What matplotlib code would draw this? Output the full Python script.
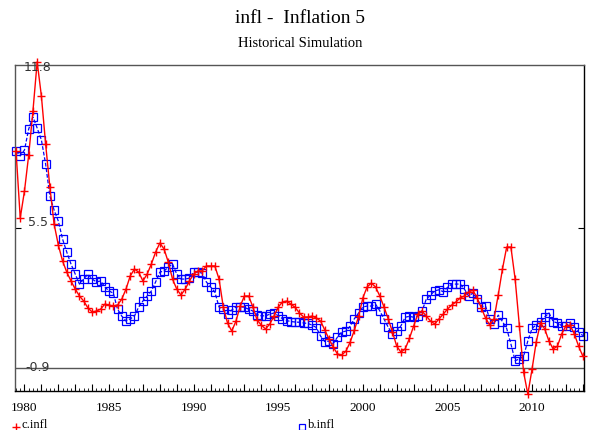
import numpy as np
import matplotlib
matplotlib.use("Agg")
import matplotlib.pyplot as plt
from matplotlib.lines import Line2D
from matplotlib.ticker import MultipleLocator, FixedLocator

# quarterly data, 1979Q3 .. 2013Q1
start_year = 1979.5
c_infl = [8.20, 5.39, 6.52, 8.03, 9.87, 11.93, 10.50, 8.49, 6.69, 5.14,
          4.26, 3.59, 3.12, 2.75, 2.41, 2.12, 1.91, 1.62, 1.45, 1.49,
          1.57, 1.78, 1.74, 1.70, 1.74, 1.99, 2.41, 2.96, 3.25, 3.12,
          2.75, 3.04, 3.46, 3.96, 4.34, 4.09, 3.54, 2.83, 2.41, 2.16,
          2.41, 2.75, 3.04, 3.17, 3.17, 3.38, 3.38, 3.38, 2.83, 1.66,
          0.99, 0.65, 1.07, 1.70, 2.12, 2.12, 1.66, 1.11, 0.90, 0.74,
          0.95, 1.28, 1.66, 1.87, 1.91, 1.78, 1.64, 1.41, 1.24, 1.24,
          1.28, 1.20, 1.07, 0.69, 0.32, -0.02, -0.31, -0.35, -0.19, 0.19,
          0.69, 1.28, 2.04, 2.50, 2.66, 2.50, 2.12, 1.66, 1.16, 0.61,
          0.02, -0.23, -0.10, 0.34, 0.86, 1.36, 1.49, 1.28, 1.07, 0.95,
          1.16, 1.36, 1.57, 1.74, 1.87, 2.04, 2.12, 2.29, 2.37, 2.04,
          1.62, 1.20, 0.90, 1.16, 2.16, 3.25, 4.17, 4.17, 2.83, 0.86,
          -1.07, -1.99, -0.94, 0.21, 0.99, 0.74, 0.23, -0.10, 0.02, 0.53,
          0.87, 0.90, 0.53, 0.02, -0.40]
b_infl = [8.20, 7.99, 8.24, 9.12, 9.62, 9.16, 8.66, 7.65, 6.31, 5.72,
          5.26, 4.51, 3.96, 3.46, 3.04, 2.62, 2.83, 3.04, 2.83, 2.71,
          2.75, 2.50, 2.33, 2.24, 1.57, 1.28, 1.07, 1.16, 1.28, 1.66,
          1.91, 2.12, 2.33, 2.71, 3.12, 3.17, 3.33, 3.46, 3.04, 2.83,
          2.83, 2.87, 3.12, 3.12, 3.08, 2.71, 2.50, 2.29, 1.66, 1.57,
          1.36, 1.53, 1.66, 1.68, 1.64, 1.57, 1.49, 1.34, 1.29, 1.29,
          1.36, 1.41, 1.29, 1.17, 1.09, 1.05, 1.03, 1.02, 0.99, 0.97,
          0.90, 0.80, 0.44, 0.21, 0.23, 0.13, 0.40, 0.61, 0.65, 0.86,
          1.17, 1.41, 1.66, 1.70, 1.70, 1.78, 1.50, 1.16, 0.81, 0.53,
          0.66, 0.87, 1.23, 1.27, 1.23, 1.29, 1.50, 1.99, 2.16, 2.34,
          2.38, 2.30, 2.48, 2.62, 2.62, 2.62, 2.41, 2.12, 2.24, 2.01,
          1.68, 1.70, 1.16, 0.95, 1.32, 1.05, 0.76, 0.11, -0.59, -0.52,
          -0.40, 0.24, 0.76, 0.92, 1.03, 1.24, 1.41, 1.05, 0.99, 0.88,
          0.87, 1.00, 0.83, 0.61, 0.46]

year_labels = [1980, 1985, 1990, 1995, 2000, 2005, 2010]
y_top, y_ref = 11.8, -0.9
y_mid_label = "5.5"

serif = "Liberation Serif"

dates = start_year + 0.25 * np.arange(len(c_infl))

fig = plt.figure(figsize=(5.89, 4.31), dpi=100)
ax = fig.add_axes([15 / 589, 39 / 431, 569 / 589, 326 / 431])

ax.plot(dates, c_infl, color="red", lw=1.0, marker="+", ms=6, mew=1.0,
        clip_on=False, zorder=3)
ax.plot(dates, b_infl, color="blue", lw=0.9, ls=(0, (3, 1.5)), marker="s",
        ms=5.3, mfc="none", mec="blue", mew=0.9, clip_on=False, zorder=2)

ax.set_xlim(1979.44, 2013.07)
ax.set_ylim(-1.86, y_top)

ax.axhline(y_ref, color="#555555", lw=1.0, zorder=1)

# x axis: year ticks, quarter minor ticks
ax.xaxis.set_major_locator(FixedLocator(np.arange(1980, 2014)))
ax.xaxis.set_minor_locator(MultipleLocator(0.25))
ax.set_xticklabels([str(y) if y in year_labels else "" for y in range(1980, 2014)],
                   fontfamily=serif, fontsize=9.5)
ax.tick_params(axis="x", which="major", direction="in", length=5, width=0.8, pad=7)
ax.tick_params(axis="x", which="minor", direction="in", length=2.5, width=0.6)

# y axis: one inward tick, labels drawn inside the frame
mid_tick = 4.97
ax.set_yticks([mid_tick])
ax.set_yticklabels([])
ax.tick_params(axis="y", direction="in", length=4, width=0.8, left=True, right=True)

lbl_kw = dict(transform=ax.get_yaxis_transform(), ha="center", va="center",
              fontsize=9, color="#333333")
ax.text(0.0404, y_top - 0.05, f"{y_top}", **lbl_kw)
ax.text(0.0404, mid_tick + 0.29, y_mid_label, **lbl_kw)
ax.text(0.0404, y_ref + 0.08, f"{y_ref}", **lbl_kw)

for side in ["top", "left"]:
    ax.spines[side].set_color("#555555")
for side in ["right", "bottom"]:
    ax.spines[side].set_color("black")
for sp in ax.spines.values():
    sp.set_linewidth(1.0)

fig.text(0.509, 0.958, "infl -  Inflation 5", ha="center", va="center",
         fontfamily=serif, fontsize=14)
fig.text(0.509, 0.900, "Historical Simulation", ha="center", va="center",
         fontfamily=serif, fontsize=10.5)

# legend along the bottom edge
fig.add_artist(Line2D([16 / 589], [3 / 431], marker="+", color="red", ms=6, mew=1.0,
                      transform=fig.transFigure))
fig.text(22 / 589, 6 / 431, "c.infl", fontfamily=serif, fontsize=9, va="center")
fig.add_artist(Line2D([302 / 589], [3 / 431], marker="s", mfc="none", mec="blue",
                      ms=5, mew=0.9, transform=fig.transFigure))
fig.text(308 / 589, 6 / 431, "b.infl", fontfamily=serif, fontsize=9, va="center")

fig.savefig("out.png", dpi=100)
